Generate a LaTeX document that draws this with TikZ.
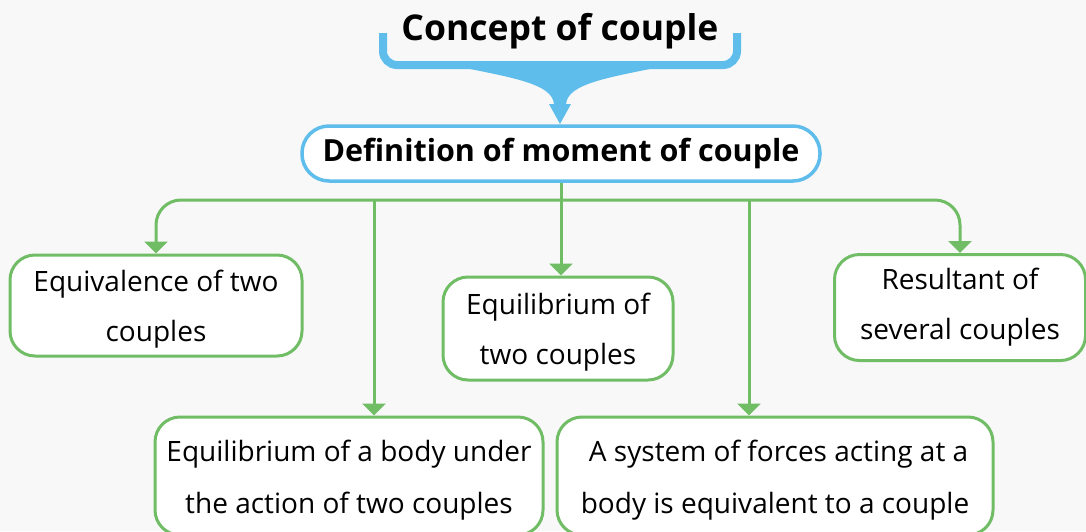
\documentclass[tikz,border=0pt]{standalone}
\usepackage{fontspec}
\setmainfont{Open Sans}
\usetikzlibrary{arrows.meta}

\definecolor{skyblue}{RGB}{94,189,235}
\definecolor{leafgreen}{RGB}{112,189,102}
\definecolor{paper}{RGB}{248,248,248}

% a taller first line pushes the two-line label slightly down in its box
\newcommand{\lowerstrut}{\rule{0pt}{29pt}}

\tikzset{
  topicbox/.style={draw=leafgreen, line width=3pt, fill=white, rounded corners=25pt,
    align=center, inner sep=0pt, font=\fontsize{28}{50}\selectfont},
  linkarrow/.style={draw=leafgreen, line width=3pt,
    -{Triangle[width=23pt,length=12pt]}},
}

\begin{document}
\begin{tikzpicture}[x=1pt, y=-1pt]
  \useasboundingbox (0,0) rectangle (1086,531);
  \fill[paper] (0,0) rectangle (1086,531);

  % heading with its bracket and funnel
  \node[font=\fontsize{35.5}{40}\selectfont\bfseries, anchor=base] (title) at (560,40) {Concept of couple};
  \draw[skyblue, line width=8pt, rounded corners=14pt]
    (383,33) -- (383,65) -- (737,65) -- (737,33);
  \fill[skyblue]
    (455,66) .. controls (515,78) and (552,84) .. (554,104)
    -- (549,104) -- (560,124) -- (571,104) -- (566,104)
    .. controls (568,84) and (605,78) .. (665,66) -- cycle;

  % main definition
  \node[draw=skyblue, line width=3.5pt, fill=white, rounded corners=27pt,
        minimum width=518pt, minimum height=55pt, inner sep=0pt,
        font=\fontsize{30.5}{36}\selectfont\bfseries] (def) at (561,153.5)
        {Definition of moment of couple};

  % topics
  \node[topicbox, minimum width=292pt, minimum height=101pt] (equiv) at (156,305.5)
    {\lowerstrut Equivalence of two\\couples};
  \node[topicbox, minimum width=230pt, minimum height=103pt] (equil) at (558,328.5)
    {\lowerstrut Equilibrium of\\two couples};
  \node[topicbox, minimum width=251pt, minimum height=106pt] (result) at (960,307.5)
    {Resultant of\\several couples};
  \node[topicbox, minimum width=388pt, minimum height=118pt,
        font=\fontsize{28}{52}\selectfont] (body) at (349,476)
    {\lowerstrut Equilibrium of a body under\\the action of two couples};
  \node[topicbox, minimum width=436pt, minimum height=118pt,
        font=\fontsize{28}{52}\selectfont] (system) at (775,476)
    {\lowerstrut\ A system of forces acting at a\\body is equivalent to a couple};

  % connectors
  \coordinate (bus) at (561,200);
  \coordinate (busL) at (374,200);
  \coordinate (busR) at (749,200);
  \draw[linkarrow] (def.south) -- (def.south |- equil.north);
  \draw[linkarrow, rounded corners=25pt] (bus) -| (equiv.north);
  \draw[linkarrow, rounded corners=25pt] (bus) -| (result.north);
  \draw[linkarrow] (busL) -- (busL |- body.north);
  \draw[linkarrow] (busR) -- (busR |- system.north);
\end{tikzpicture}
\end{document}
